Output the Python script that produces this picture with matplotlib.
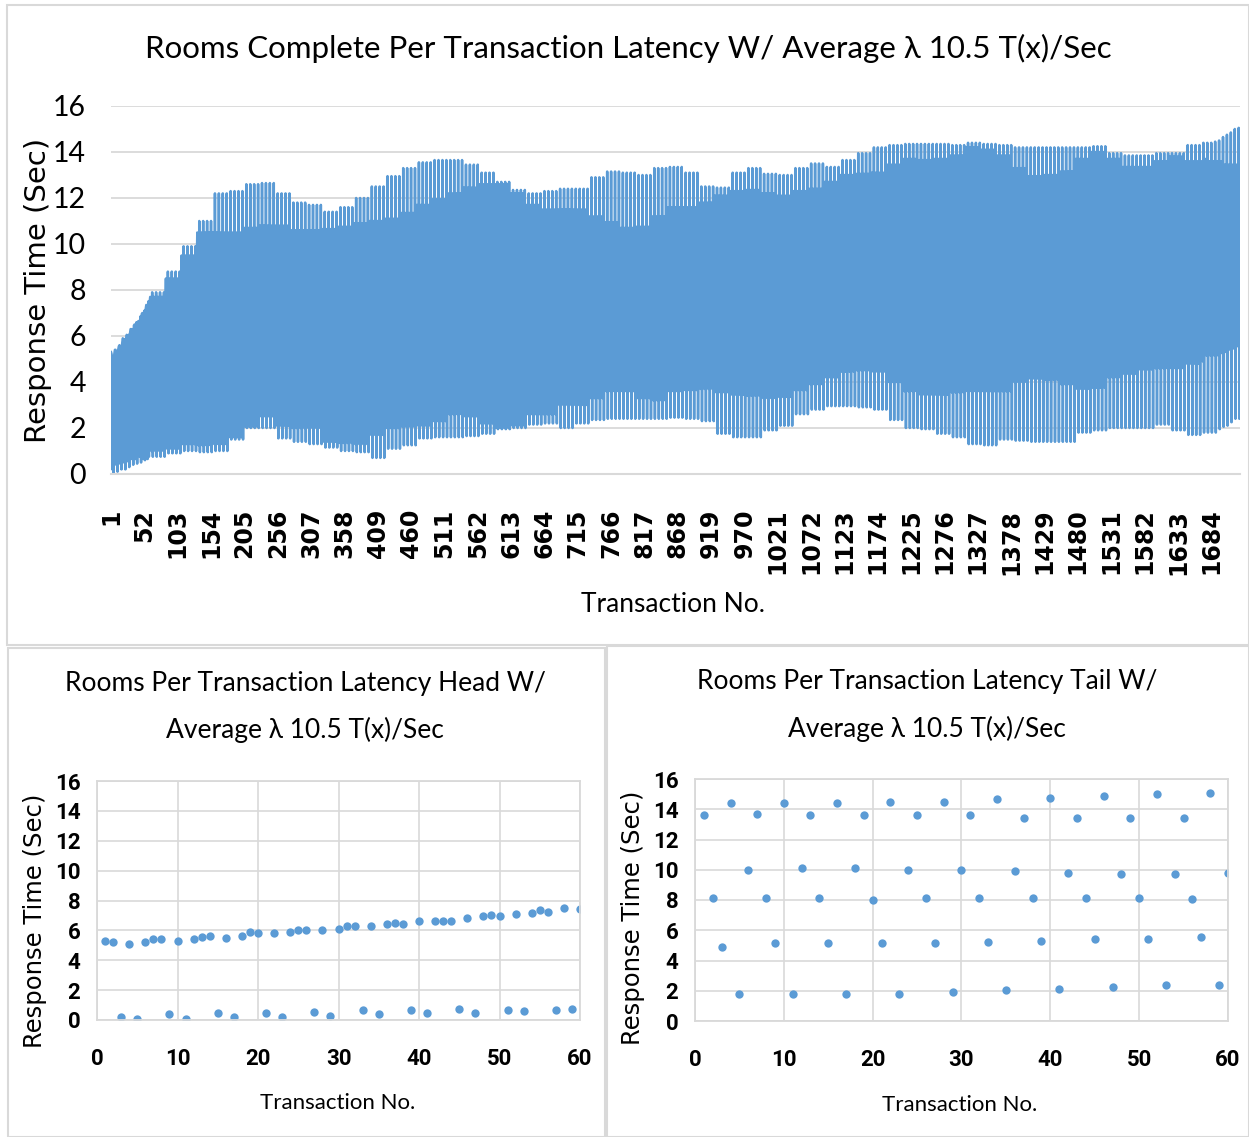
import numpy as np
import matplotlib.pyplot as plt
from matplotlib.patches import Rectangle

NARROW = ['Lato', 'DejaVu Sans']
BOLDNUM = ['Roboto', 'DejaVu Sans']
WIDE = ['DejaVu Sans']
BLUE = '#5B9BD5'
GRID = '#D9D9D9'

# Head: first 60 transactions
head_y = [5.3, 5.2, 0.2, 5.1, 0.05, 5.2, 5.4, 5.4, 0.4, 5.3,
          0.1, 5.4, 5.55, 5.6, 0.45, 5.5, 0.2, 5.65, 5.9, 5.85,
          0.5, 5.85, 0.2, 5.9, 6.05, 6.0, 0.55, 6.05, 0.3, 6.1,
          6.3, 6.3, 0.65, 6.3, 0.4, 6.45, 6.5, 6.45, 0.65, 6.6,
          0.45, 6.6, 6.65, 6.65, 0.75, 6.85, 0.5, 6.95, 7.0, 6.95,
          0.65, 7.1, 0.6, 7.15, 7.35, 7.2, 0.65, 7.5, 0.75, 7.45]

# Tail: last 60 transactions
tail_y = [13.6, 8.1, 4.9, 14.4, 1.8, 10.0, 13.7, 8.1, 5.15, 14.4,
          1.8, 10.1, 13.6, 8.1, 5.15, 14.4, 1.8, 10.1, 13.6, 8.0,
          5.15, 14.45, 1.8, 10.0, 13.6, 8.1, 5.15, 14.5, 1.95, 10.0,
          13.6, 8.1, 5.25, 14.65, 2.05, 9.9, 13.45, 8.1, 5.3, 14.75,
          2.1, 9.8, 13.45, 8.1, 5.4, 14.85, 2.25, 9.75, 13.45, 8.1,
          5.45, 15.0, 2.4, 9.75, 13.45, 8.05, 5.55, 15.05, 2.4, 9.8]

# Middle part: the run repeats a 6-step cycle; levels of each step read
# off the big chart for every block of 24 transactions (t = 61 .. 1668)
lvl_peak = [7.9, 8.8, 9.9, 11.0, 12.2, 12.3, 12.6, 12.65, 12.2, 11.8,
            11.7, 11.4, 11.6, 12.0, 12.5, 12.95, 13.3, 13.55, 13.65, 13.65,
            13.45, 13.1, 12.7, 12.35, 12.2, 12.3, 12.4, 12.4, 12.9, 13.15,
            13.1, 13.0, 13.3, 13.35, 13.1, 12.5, 12.45, 13.1, 13.3, 13.05,
            13.0, 13.3, 13.5, 13.35, 13.65, 13.95, 14.2, 14.3, 14.35, 14.35,
            14.35, 14.3, 14.4, 14.35, 14.3, 14.2, 14.2, 14.2, 14.2, 14.2,
            14.25, 13.95, 13.85, 13.85, 13.95, 13.95, 14.3]
lvl_high = [7.7, 8.5, 9.5, 10.5, 10.5, 10.5, 10.7, 10.8, 10.8, 10.6,
            10.6, 10.65, 10.75, 10.9, 11.0, 11.1, 11.35, 11.7, 11.95, 12.2,
            12.45, 12.6, 12.6, 12.2, 11.7, 11.5, 11.5, 11.5, 11.2, 10.95,
            10.7, 10.75, 11.2, 11.6, 11.6, 11.8, 12.1, 12.3, 12.35, 12.2,
            12.1, 12.3, 12.4, 12.7, 13.0, 13.05, 13.1, 13.45, 13.7, 13.65,
            13.7, 13.85, 14.2, 14.1, 13.85, 13.3, 12.95, 13.0, 13.15, 13.7,
            14.0, 13.7, 13.35, 13.35, 13.6, 13.8, 13.6]
lvl_mid_a = [7.3, 7.4, 7.5, 7.6, 7.6, 7.6, 7.7, 7.7, 7.7, 7.7,
             7.7, 7.7, 7.7, 7.7, 7.8, 7.8, 7.8, 7.8, 7.8, 7.8,
             7.8, 7.8, 7.8, 7.8, 7.8, 7.8, 7.9, 7.9, 7.9, 7.9,
             7.9, 7.9, 7.9, 7.9, 7.9, 7.9, 7.9, 7.9, 7.9, 7.9,
             8.0, 8.0, 8.0, 8.0, 8.0, 8.0, 8.0, 8.0, 8.0, 8.0,
             8.0, 8.0, 8.0, 8.0, 8.0, 8.0, 8.1, 8.1, 8.1, 8.1,
             8.1, 8.1, 8.1, 8.1, 8.1, 8.1, 8.1]
lvl_mid_b = [7.6, 8.0, 8.5, 8.8, 8.9, 9.0, 9.0, 9.1, 9.1, 9.1,
             9.1, 9.2, 9.2, 9.2, 9.2, 9.3, 9.3, 9.3, 9.3, 9.4,
             9.4, 9.4, 9.4, 9.4, 9.5, 9.5, 9.5, 9.5, 9.5, 9.5,
             9.5, 9.5, 9.6, 9.6, 9.6, 9.6, 9.6, 9.6, 9.7, 9.7,
             9.7, 9.7, 9.7, 9.7, 9.8, 9.8, 9.8, 9.8, 9.8, 9.8,
             9.9, 9.9, 9.9, 9.9, 9.9, 9.9, 9.9, 9.9, 9.9, 9.9,
             10.0, 10.0, 10.0, 10.0, 10.0, 10.0, 10.0]
lvl_low = [1.0, 1.1, 1.3, 1.25, 1.3, 1.6, 2.05, 2.5, 2.1, 2.0,
           2.0, 1.4, 1.35, 1.3, 1.7, 2.0, 2.05, 2.1, 2.3, 2.6,
           2.5, 2.2, 2.0, 2.1, 2.6, 2.6, 3.0, 3.0, 3.3, 3.6,
           3.6, 3.3, 3.2, 3.6, 3.65, 3.7, 3.55, 3.45, 3.4, 3.3,
           3.35, 3.65, 3.9, 4.2, 4.45, 4.5, 4.45, 4.0, 3.6, 3.45,
           3.45, 3.55, 3.6, 3.6, 3.6, 4.0, 4.15, 4.1, 3.9, 3.7,
           3.75, 4.2, 4.35, 4.55, 4.6, 4.6, 4.8]
lvl_floor = [0.75, 0.9, 1.0, 0.95, 1.0, 1.5, 2.0, 2.0, 1.55, 1.4,
             1.3, 1.15, 1.0, 0.95, 0.7, 1.1, 1.25, 1.55, 1.6, 1.6,
             1.65, 1.75, 1.95, 2.0, 2.15, 2.2, 2.0, 2.2, 2.35, 2.4,
             2.4, 2.4, 2.4, 2.45, 2.4, 2.3, 1.75, 1.6, 1.6, 1.9,
             2.1, 2.6, 2.8, 2.95, 2.95, 2.9, 2.8, 2.35, 2.0, 1.95,
             1.75, 1.6, 1.3, 1.25, 1.5, 1.45, 1.4, 1.4, 1.4, 1.8,
             1.9, 2.0, 2.0, 2.0, 2.15, 1.9, 1.7]
cycles_per_block = 4

# build the full run
middle = []
for k in range(len(lvl_peak)):
    cyc = [lvl_high[k], lvl_mid_a[k], lvl_low[k], lvl_peak[k], lvl_floor[k], lvl_mid_b[k]]
    middle += cyc * cycles_per_block
series = np.array(head_y + middle + tail_y)
tx = np.arange(1, len(series) + 1)

fig = plt.figure(figsize=(12.49, 11.37), dpi=100)

# panel frames
for (x0, y0, x1, y1) in [(7, 5, 1249, 645), (8, 648, 605, 1137), (607, 646, 1249, 1137)]:
    fig.add_artist(Rectangle((x0 / 1249, 1 - y1 / 1137), (x1 - x0) / 1249, (y1 - y0) / 1137,
                             transform=fig.transFigure, fill=False, edgecolor=GRID, lw=1.5))

# ---- big chart ----
ax = fig.add_axes([111 / 1249, 1 - 474 / 1137, 1129 / 1249, 368 / 1137])
ax.plot(tx, series, color=BLUE, lw=1.8)
ax.set_xlim(1, len(series))
ax.set_ylim(0, 16)
ax.set_yticks(range(0, 17, 2))
ax.set_xticks(np.arange(1, len(series) + 1, 51))
ax.set_xticklabels([str(v) for v in np.arange(1, len(series) + 1, 51)],
                   rotation=90, family=WIDE, fontweight='bold', fontsize=17)
for lab in ax.get_yticklabels():
    lab.set_family(NARROW)
    lab.set_fontsize(20.5)
ax.tick_params(length=0)
ax.tick_params(axis='y', pad=18)
ax.tick_params(axis='x', pad=25)
ax.grid(axis='y', color=GRID, lw=1.3)
ax.set_axisbelow(True)
for s in ['left', 'right', 'top']:
    ax.spines[s].set_visible(False)
ax.spines['bottom'].set_color(GRID)
ax.spines['bottom'].set_linewidth(1.5)

fig.text(628 / 1249, 1 - 48 / 1137, 'Rooms Complete Per Transaction Latency W/ Average λ 10.5 T(x)/Sec',
         ha='center', va='center', family=NARROW, fontsize=22.5)
fig.text(38 / 1249, 1 - 290 / 1137, 'Response Time (Sec)', rotation=90,
         ha='center', va='center', family=WIDE, fontsize=21)
fig.text(673 / 1249, 1 - 604 / 1137, 'Transaction No.', ha='center', va='center',
         family=NARROW, fontsize=19)

# ---- head / tail scatter charts ----
def small_chart(rect, yvals, title_x, title_y, ylab_x, xlab_xy):
    a = fig.add_axes(rect)
    a.plot(np.arange(1, len(yvals) + 1), yvals, 'o', color=BLUE, ms=6, mec='none')
    a.set_xlim(0, 60)
    a.set_ylim(0, 16)
    a.set_xticks(range(0, 61, 10))
    a.set_yticks(range(0, 17, 2))
    for lab in a.get_xticklabels() + a.get_yticklabels():
        lab.set_family(BOLDNUM)
        lab.set_fontweight('bold')
        lab.set_fontsize(16)
    a.tick_params(length=0)
    a.tick_params(axis='y', pad=12)
    a.tick_params(axis='x', pad=20)
    a.grid(color=GRID, lw=1.2)
    a.set_axisbelow(True)
    for s in a.spines.values():
        s.set_color(GRID)
        s.set_linewidth(1.3)
    fig.text(title_x / 1249, 1 - title_y[0] / 1137, title_y[2], ha='center', va='center',
             family=NARROW, fontsize=19)
    fig.text(title_x / 1249, 1 - title_y[1] / 1137, 'Average λ 10.5 T(x)/Sec', ha='center',
             va='center', family=NARROW, fontsize=19)
    fig.text(ylab_x[0] / 1249, 1 - ylab_x[1] / 1137, 'Response Time (Sec)', rotation=90,
             ha='center', va='center', family=WIDE, fontsize=17.5)
    fig.text(xlab_xy[0] / 1249, 1 - xlab_xy[1] / 1137, 'Transaction No.', ha='center',
             va='center', family=NARROW, fontsize=16)
    return a

small_chart([97 / 1249, 1 - 1020 / 1137, 483 / 1249, 239 / 1137], head_y,
            305, (683, 730, 'Rooms Per Transaction Latency Head W/'), (35, 921), (338, 1103))
small_chart([695 / 1249, 1 - 1021 / 1137, 533 / 1249, 242 / 1137], tail_y,
            927, (682, 729, 'Rooms Per Transaction Latency Tail W/'), (633, 918), (960, 1105))

fig.savefig('out.png', dpi=100)
